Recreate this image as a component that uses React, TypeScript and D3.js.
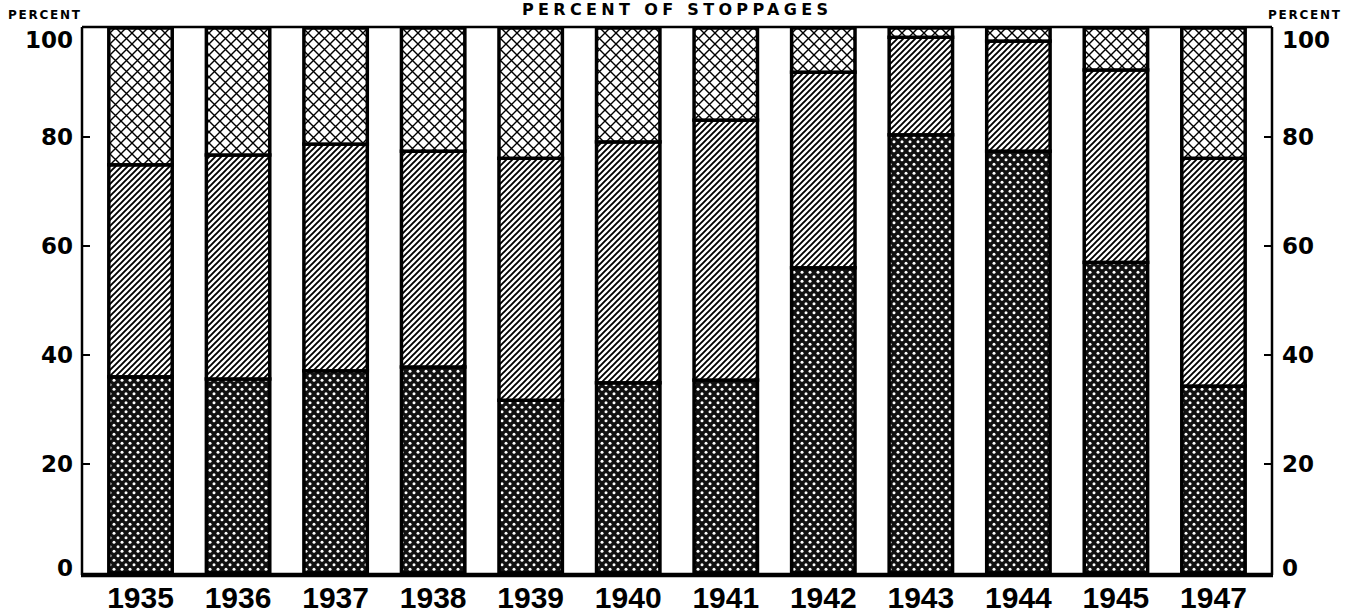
import React, { useEffect, useRef } from "react";
import * as d3 from "d3";

// years along the bottom
const years = ["1935", "1936", "1937", "1938", "1939", "1940", "1941", "1942", "1943", "1944", "1945", "1947"];

// percent of stoppages, bottom (dark dotted) segment
const darkShare = [36.0, 35.6, 37.1, 37.8, 31.7, 34.9, 35.4, 56.0, 80.4, 77.4, 57.0, 34.3];
// middle (diagonal hatch) segment
const hatchShare = [38.9, 41.1, 41.6, 39.6, 44.4, 44.2, 47.7, 35.9, 17.9, 20.2, 35.3, 41.8];
// top (cross hatch) segment
const crossShare = [25.1, 23.3, 21.3, 22.6, 23.9, 20.9, 16.9, 8.1, 1.7, 2.4, 7.7, 23.9];

const yTicks = [0, 20, 40, 60, 80, 100];

const StoppageChart = () => {
    const svgRef = useRef(null);
    const width = 1346;
    const height = 613;
    const plot = { left: 82, right: 1272, top: 28, bottom: 573 };

    useEffect(() => {
        const rows = years.map((y, i) => ({
            year: y,
            dark: darkShare[i],
            hatch: hatchShare[i],
            cross: crossShare[i],
        }));
        const keys = ["dark", "hatch", "cross"];
        const stacked = d3.stack().keys(keys)(rows);

        const xScale = d3
            .scaleBand()
            .domain(years)
            .range([plot.left, plot.right])
            .paddingInner(0.35)
            .paddingOuter(0.275);

        const yScale = d3.scaleLinear().domain([0, 100]).range([plot.bottom, plot.top]);

        const svg = d3.select(svgRef.current);
        svg.selectAll("*").remove();

        // fill patterns
        const defs = svg.append("defs");

        const cross = defs
            .append("pattern")
            .attr("id", "pat-cross")
            .attr("patternUnits", "userSpaceOnUse")
            .attr("width", 11)
            .attr("height", 11);
        cross.append("rect").attr("width", 11).attr("height", 11).attr("fill", "#fff");
        cross
            .append("path")
            .attr("d", "M0,0L11,11M11,0L0,11")
            .attr("stroke", "#000")
            .attr("stroke-width", 1.4);

        const hatch = defs
            .append("pattern")
            .attr("id", "pat-hatch")
            .attr("patternUnits", "userSpaceOnUse")
            .attr("width", 6)
            .attr("height", 6);
        hatch.append("rect").attr("width", 6).attr("height", 6).attr("fill", "#fff");
        hatch
            .append("path")
            .attr("d", "M0,6L6,0M-1.5,1.5L1.5,-1.5M4.5,7.5L7.5,4.5")
            .attr("stroke", "#000")
            .attr("stroke-width", 1.9);

        const dots = defs
            .append("pattern")
            .attr("id", "pat-dots")
            .attr("patternUnits", "userSpaceOnUse")
            .attr("width", 8)
            .attr("height", 9);
        dots.append("rect").attr("width", 8).attr("height", 9).attr("fill", "#111");
        dots.append("circle").attr("cx", 2).attr("cy", 2.25).attr("r", 1.5).attr("fill", "#fff");
        dots.append("circle").attr("cx", 6).attr("cy", 6.75).attr("r", 1.5).attr("fill", "#fff");

        const fills = { dark: "url(#pat-dots)", hatch: "url(#pat-hatch)", cross: "url(#pat-cross)" };

        // stacked segments
        svg
            .append("g")
            .selectAll("g")
            .data(stacked)
            .enter()
            .append("g")
            .attr("fill", (d) => fills[d.key])
            .selectAll("rect")
            .data((d) => d)
            .enter()
            .append("rect")
            .attr("x", (d) => xScale(d.data.year))
            .attr("y", (d) => yScale(d[1]))
            .attr("width", xScale.bandwidth())
            .attr("height", (d) => yScale(d[0]) - yScale(d[1]))
            .attr("stroke", "#000")
            .attr("stroke-width", 3.5);

        // frame
        const frame = svg.append("g").attr("stroke", "#000").attr("fill", "none");
        frame.append("line").attr("x1", plot.left).attr("x2", plot.left).attr("y1", plot.top - 1).attr("y2", plot.bottom + 2).attr("stroke-width", 2.5);
        frame.append("line").attr("x1", plot.right).attr("x2", plot.right).attr("y1", plot.top - 1).attr("y2", plot.bottom + 2).attr("stroke-width", 2.5);
        frame.append("line").attr("x1", plot.left).attr("x2", plot.right).attr("y1", plot.top - 1).attr("y2", plot.top - 1).attr("stroke-width", 2.5);
        frame.append("line").attr("x1", plot.left - 1).attr("x2", plot.right + 1).attr("y1", plot.bottom + 2).attr("y2", plot.bottom + 2).attr("stroke-width", 4.5);

        // inward ticks on both sides
        const inner = yTicks.filter((t) => t > 0 && t < 100);
        frame
            .selectAll(".tl")
            .data(inner)
            .enter()
            .append("line")
            .attr("x1", plot.left)
            .attr("x2", plot.left + 8)
            .attr("y1", (d) => yScale(d))
            .attr("y2", (d) => yScale(d))
            .attr("stroke-width", 2);
        frame
            .selectAll(".tr")
            .data(inner)
            .enter()
            .append("line")
            .attr("x1", plot.right - 8)
            .attr("x2", plot.right)
            .attr("y1", (d) => yScale(d))
            .attr("y2", (d) => yScale(d))
            .attr("stroke-width", 2);

        // tick labels
        const labelY = (d) => (d === 100 ? yScale(d) + 12 : d === 0 ? yScale(d) - 5 : yScale(d));
        const tickText = svg
            .append("g")
            .style("font-family", "'DejaVu Sans', sans-serif")
            .style("font-weight", "bold")
            .style("font-size", "23px")
            .attr("fill", "#000");
        tickText
            .selectAll(".ll")
            .data(yTicks)
            .enter()
            .append("text")
            .attr("x", plot.left - 9)
            .attr("y", labelY)
            .attr("text-anchor", "end")
            .attr("dominant-baseline", "central")
            .text((d) => d);
        tickText
            .selectAll(".rl")
            .data(yTicks)
            .enter()
            .append("text")
            .attr("x", plot.right + 10)
            .attr("y", labelY)
            .attr("text-anchor", "start")
            .attr("dominant-baseline", "central")
            .text((d) => d);

        // year labels
        svg
            .append("g")
            .style("font-family", "'Liberation Sans', Arial, sans-serif")
            .style("font-weight", "bold")
            .style("font-size", "30px")
            .selectAll("text")
            .data(years)
            .enter()
            .append("text")
            .attr("x", (d) => xScale(d) + xScale.bandwidth() / 2)
            .attr("y", 608)
            .attr("text-anchor", "middle")
            .text((d) => d);

        // small unit labels
        const unit = svg
            .append("g")
            .style("font-family", "'DejaVu Sans', sans-serif")
            .style("font-weight", "bold")
            .style("font-size", "12px");
        unit.append("text").attr("x", 8).attr("y", 19).attr("textLength", 72).text("PERCENT");
        unit.append("text").attr("x", 1268).attr("y", 19).attr("textLength", 72).text("PERCENT");

        // title
        svg
            .append("text")
            .attr("x", 522)
            .attr("y", 15)
            .attr("textLength", 306)
            .style("font-family", "'DejaVu Sans', sans-serif")
            .style("font-weight", "bold")
            .style("font-size", "16px")
            .text("PERCENT OF STOPPAGES");
    }, []);

    return (
        <svg
            ref={svgRef}
            width={width}
            height={height}
            style={{ position: "absolute", left: 0, top: 0, background: "#fff" }}
        />
    );
};

export default function App() {
    return <StoppageChart />;
}
